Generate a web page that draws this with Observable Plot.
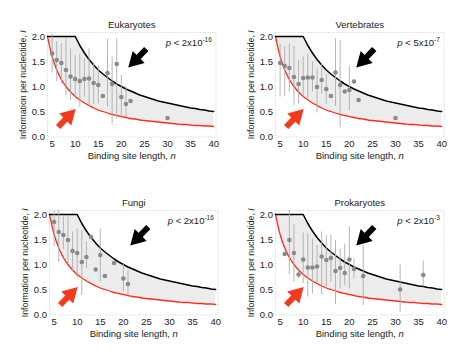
<!DOCTYPE html>
<html><head><meta charset="utf-8">
<script src="https://cdn.jsdelivr.net/npm/d3@7"></script>
<script src="https://cdn.jsdelivr.net/npm/@observablehq/plot@0.6"></script>
<style>
body{margin:0;background:#fff;}
#wrap{position:relative;width:468px;height:356px;overflow:hidden;background:#fff;}
.panel{position:absolute;}
</style></head><body><div id="wrap"></div>
<script>
// ---- data ----
const curveN = [4,5,6,7,8,9,10,11,12,13,14,15,16,17,18,19,20,21,22,23,24,25,26,27,28,29,30,31,32,33,34,35,36,37,38,39,40];
const upperBound = [2,2,2,2,2,2,2.0,1.82,1.67,1.54,1.43,1.33,1.25,1.18,1.11,1.05,1.0,0.95,0.91,0.87,0.83,0.8,0.77,0.74,0.71,0.69,0.67,0.65,0.63,0.61,0.59,0.57,0.56,0.54,0.53,0.51,0.5];
const lowerBound = [2.0,1.6,1.33,1.14,1.0,0.89,0.8,0.73,0.67,0.62,0.57,0.53,0.5,0.47,0.44,0.42,0.4,0.38,0.36,0.35,0.33,0.32,0.31,0.3,0.29,0.28,0.27,0.26,0.25,0.24,0.24,0.23,0.22,0.22,0.21,0.21,0.2];

const titles = ["Eukaryotes","Vertebrates","Fungi","Prokaryotes"];
const pMantissa = ["2","5","2","2"];
const pExponent = ["-16","-7","-16","-3"];
const xTicks = [5,10,15,20,25,30,35,40];
const yTicks = [0,0.5,1,1.5,2];
const xLabel = "Binding site length, n";
const yLabel = "Information per nucleotide, I";

const eukN  = [5,6,7,8,9,10,11,12,13,14,15,16,17,18,19,20,21,22,30];
const eukI  = [1.66,1.53,1.47,1.33,1.2,1.15,1.11,1.15,1.16,1.07,1.03,0.81,1.27,1.05,1.45,0.79,0.65,0.71,0.37];
const eukLo = [1.27,1.1,1.05,0.82,0.72,0.79,0.59,0.79,0.59,0.65,0.65,null,0.59,0.25,0.35,0.35,0.4,null,null];
const eukHi = [2.05,1.9,1.85,1.95,1.75,1.62,1.65,1.55,1.75,1.49,1.42,null,1.95,1.59,1.95,1.22,1.0,null,null];

const verN  = [5,6,7,8,9,10,11,12,13,14,15,16,17,18,19,20,21,22,30];
const verI  = [1.47,1.41,1.37,1.19,1.05,1.17,1.18,1.18,0.99,1.13,0.95,0.81,1.28,1.03,0.9,0.93,1.1,0.73,0.37];
const verLo = [0.79,0.8,0.89,0.62,0.65,0.79,0.72,0.89,0.47,0.85,0.65,null,0.6,0.17,null,0.52,null,null,null];
const verHi = [1.85,1.8,1.85,1.8,1.52,1.59,1.65,1.49,1.35,1.45,1.25,null,1.95,1.92,null,1.4,null,null,null];

const funN  = [5,6,7,8,9,10,11,12,13,14,15,16,18,20,21];
const funI  = [1.85,1.65,1.59,1.49,1.27,1.23,1.05,1.15,1.55,0.9,1.19,0.77,1.03,0.72,0.61];
const funLo = [1.35,1.04,1.3,1.02,0.85,0.72,0.38,0.92,null,null,0.65,null,null,0.45,0.37];
const funHi = [2.1,2.1,1.95,1.95,1.65,1.71,1.68,1.45,null,null,1.71,null,null,1.0,0.88];

const proN  = [6,7,8,9,10,11,12,13,14,15,16,17,18,19,20,21,23,31,36];
const proI  = [1.21,1.49,1.23,0.8,1.1,0.94,0.94,0.96,1.16,1.09,1.13,0.87,0.93,0.83,1.1,0.91,0.77,0.5,0.79];
const proLo = [null,0.8,0.65,0.72,0.62,0.35,0.41,0.62,0.4,0.51,0.65,0.2,0.51,0.58,0.51,0.71,0.18,0.05,0.55];
const proHi = [null,2.09,1.8,0.88,1.63,1.61,1.51,1.38,1.65,1.58,1.58,1.48,1.31,1.41,1.75,1.11,1.38,0.99,1.07];

const panels = [
  {n: eukN, I: eukI, lo: eukLo, hi: eukHi},
  {n: verN, I: verI, lo: verLo, hi: verHi},
  {n: funN, I: funI, lo: funLo, hi: funHi},
  {n: proN, I: proI, lo: proLo, hi: proHi}
];

// ---- layout ----
const offsets = [[0,0],[228,0],[2,178],[228,178]];
const bound = curveN.map((n,i)=>({n, up: upperBound[i], low: lowerBound[i]}));
const font = "'Liberation Sans', Arial, Helvetica, sans-serif";
const redC = "#ff2a1f";
const NS = "http://www.w3.org/2000/svg";

function rich(svg, pIdx) {
  svg.querySelectorAll("text").forEach(t => {
    const s = t.textContent;
    if (t.querySelector("tspan")) return;
    if (s === xLabel || s === yLabel) {
      const head = s.slice(0, -1), tail = s.slice(-1);
      t.textContent = "";
      const a = document.createElementNS(NS,"tspan"); a.textContent = head;
      const b = document.createElementNS(NS,"tspan"); b.textContent = tail; b.setAttribute("font-style","italic");
      t.append(a, b);
    } else if (s === "p < " + pMantissa[pIdx] + "x10" + pExponent[pIdx]) {
      t.textContent = "";
      const a = document.createElementNS(NS,"tspan"); a.textContent = "p"; a.setAttribute("font-style","italic");
      const b = document.createElementNS(NS,"tspan"); b.textContent = " < " + pMantissa[pIdx] + "x10";
      const c = document.createElementNS(NS,"tspan"); c.textContent = pExponent[pIdx];
      c.setAttribute("font-size","6.5px"); c.setAttribute("dy","-4");
      t.append(a, b, c);
    }
  });
}

const wrap = document.getElementById("wrap");
panels.forEach((p, k) => {
  const pts = p.n.map((n,i)=>({n, I: p.I[i], lo: p.lo[i], hi: p.hi[i]}));
  const bars = pts.filter(d => d.lo != null);
  const chart = Plot.plot({
    width: 234, height: 178,
    marginLeft: 47, marginRight: 18.5, marginTop: 32, marginBottom: 41.5,
    x: {domain: [4, 40.5], axis: null},
    y: {domain: [-0.01, 2.08], axis: null},
    style: {fontFamily: font, fontSize: "9.5px", background: "transparent", color: "#222", overflow: "visible"},
    marks: [
      Plot.areaY(bound, {x: "n", y1: "low", y2: "up", fill: "#ececec"}),
      Plot.frame({stroke: "#c4c4c4", strokeDasharray: "1,1.5", strokeWidth: 0.8}),
      Plot.line(bound, {x: "n", y: "low", stroke: redC, strokeWidth: 1.3, curve: "monotone-x"}),
      Plot.line(bound, {x: "n", y: "up", stroke: "#000", strokeWidth: 1.5}),
      Plot.ruleX(bars, {x: "n", y1: "lo", y2: "hi", stroke: "#adadad", strokeWidth: 0.9, clip: true}),
      Plot.dot(pts, {x: "n", y: "I", r: 2.3, fill: "#8a8a8a"}),
      // black arrow
      Plot.link([0], {x1: 25.4, y1: 1.75, x2: 23.2, y2: 1.54, stroke: "#000", strokeWidth: 6}),
      Plot.dot([0], {x: 23.0, y: 1.52, symbol: "triangle", r: 6.3, fill: "#000", rotate: 225}),
      // red arrow
      Plot.link([0], {x1: 6.3, y1: 0.19, x2: 8.5, y2: 0.4, stroke: "#f4391c", strokeWidth: 6}),
      Plot.dot([0], {x: 8.6, y: 0.41, symbol: "triangle", r: 6.3, fill: "#f4391c", rotate: 45}),
      Plot.axisX(xTicks, {tickSize: 0, tickPadding: 3, label: null, fontSize: 9.5, fill: "#222"}),
      Plot.axisY(yTicks, {tickSize: 0, tickPadding: 2.5, label: null, tickFormat: d3.format(".1f"), fontSize: 9.5, fill: "#222"}),
      Plot.text([titles[k]], {frameAnchor: "top", dy: -8, textAnchor: "middle", lineAnchor: "middle", fontSize: 9.5, fill: "#222"}),
      Plot.text([xLabel], {frameAnchor: "bottom", dy: 19, textAnchor: "middle", lineAnchor: "middle", fontSize: 9.5, fill: "#222"}),
      Plot.text([yLabel], {frameAnchor: "left", dx: -24, rotate: -90, textAnchor: "middle", lineAnchor: "middle", fontSize: 8.8, fill: "#222"}),
      Plot.text(["p < " + pMantissa[k] + "x10" + pExponent[k]], {x: 39.6, y: 1.88, textAnchor: "end", lineAnchor: "middle", fontSize: 9.5, fill: "#222"})
    ]
  });
  rich(chart, k);
  const div = document.createElement("div");
  div.className = "panel";
  div.style.left = offsets[k][0] + "px";
  div.style.top = offsets[k][1] + "px";
  div.appendChild(chart);
  wrap.appendChild(div);
});
</script>
</body></html>
